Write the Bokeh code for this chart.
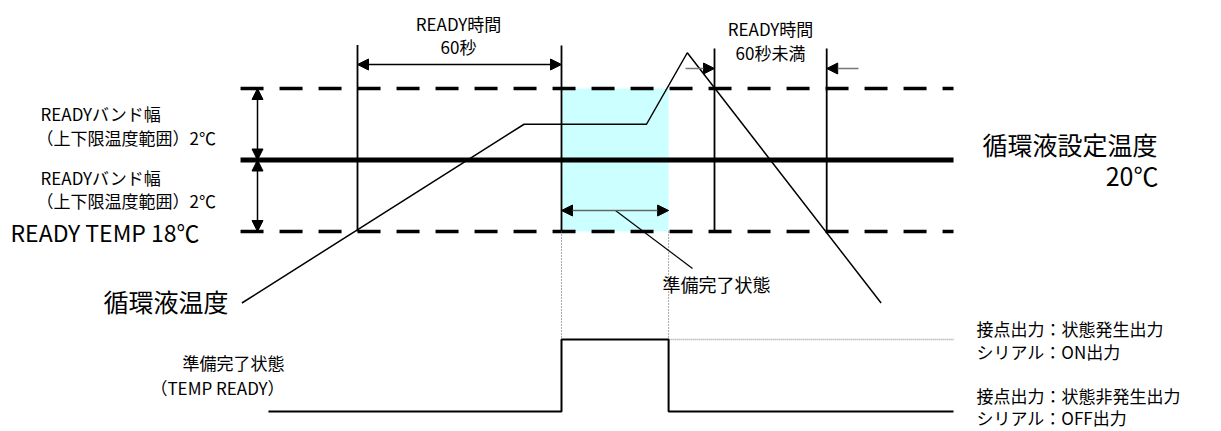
from bokeh.plotting import figure
from bokeh.models import Range1d, Arrow, NormalHead
from bokeh.core.properties import value
from bokeh.embed import file_html
from bokeh.resources import INLINE

# ---- data (time in seconds, temperature in °C, signal 0/1) ----
T_SET = 20.0
BAND = 2.0
upper_limit = T_SET + BAND
lower_limit = T_SET - BAND
line_t = [-34.4, 175.3]              # extent of reference lines (s)

curve_t = [-34, 49, 85, 97, 154]     # circulating fluid temperature
curve_temp = [16, 21, 21, 23, 16]

ready_t = [0, 60, 105, 138]          # READY timer boundaries
ready_top = [23.22, 23.2, 23.12, 23.12]
ready_state = [60, 91.5]             # TEMP READY on / off

sig_t = [-26.2, 60, 60, 91.5, 91.5, 175.3]
sig_v = [0, 0, 1, 1, 0, 0]

FONT = "Noto Sans CJK JP"
W, H = 1221, 431

# pixel <-> data helpers for label placement
PX_PER_S = 3.4
PX_PER_C = 35.75
X0, Y0 = 357, 159.5
def X(px):
    return (px - X0) / PX_PER_S
def Y(py):
    return T_SET + (Y0 - py) / PX_PER_C

p = figure(width=W, height=H,
           x_range=Range1d(X(0), X(W)), y_range=Range1d(Y(H), Y(0)),
           output_backend="svg", toolbar_location=None, min_border=0,
           x_axis_location=None, y_axis_location=None)
p.extra_y_ranges = {"sig": Range1d(-(H - 411) / 72, 411 / 72)}
p.grid.visible = False
p.outline_line_color = None
p.background_fill_color = "white"

# ready band (shaded)
p.quad(left=[ready_state[0]], right=[ready_state[1]], bottom=[lower_limit], top=[upper_limit],
       fill_color="#CCFFFF", line_color=None)

# reference lines
p.line(line_t, [upper_limit] * 2, line_color="black", line_width=3.5, line_dash="23 16")
p.line(line_t, [lower_limit] * 2, line_color="black", line_width=3.5, line_dash="23 16")
p.line(line_t, [T_SET] * 2, line_color="black", line_width=5)

# timer boundaries
p.segment(x0=ready_t, y0=ready_top, x1=ready_t, y1=[lower_limit] * 4, line_color="black", line_width=1.8)

# temperature curve
p.line(curve_t, curve_temp, line_color="black", line_width=1.5)

# dotted guides down to signal
p.segment(x0=ready_state, y0=[2.5, 2.5], x1=ready_state, y1=[1, 1], y_range_name="sig",
          line_color="#555555", line_width=1, line_dash="1 2")
p.line([ready_state[1], sig_t[-1]], [1, 1], y_range_name="sig",
       line_color="#999999", line_width=1.5, line_dash="1 1")

# signal
p.line(sig_t, sig_v, y_range_name="sig", line_color="black", line_width=2)

def head():
    return NormalHead(size=11, fill_color="black", line_color="black", line_width=1)

def arrow(x0, y0, x1, y1, both=False, color="black"):
    p.add_layout(Arrow(x_start=x0, y_start=y0, x_end=x1, y_end=y1,
                       start=head() if both else None, end=head(),
                       line_color=color, line_width=1.5))

# dimension arrows
xb = X(257)
arrow(xb, T_SET, xb, upper_limit, both=True)
arrow(xb, lower_limit, xb, T_SET, both=True)
arrow(ready_t[0], Y(64), ready_t[1], Y(64), both=True)
arrow(X(685), Y(68), ready_t[2], Y(68), color="#777777")
arrow(X(858), Y(68), ready_t[3], Y(68), color="#777777")
arrow(ready_state[0], Y(210), ready_state[1], Y(210), both=True, color="#666666")

# leader line to 準備完了状態
p.line([X(615), X(692)], [Y(210), Y(268)], line_color="black", line_width=1.2)

def txt(px, py, s, size, align="left"):
    p.text(x=[X(px)], y=[Y(py)], text=[s], text_font=value(FONT),
           text_font_size=f"{size}px", text_align=align, text_baseline="middle",
           text_color="black")

txt(40, 113, "READYバンド幅", 17)
txt(36, 137, "（上下限温度範囲）2℃", 17)
txt(40, 177, "READYバンド幅", 17)
txt(36, 200, "（上下限温度範囲）2℃", 17)
txt(10, 231, "READY TEMP 18℃", 23)

txt(458, 23, "READY時間", 17, "center")
txt(458, 46, "60秒", 17, "center")
txt(770, 28, "READY時間", 17, "center")
txt(770, 52, "60秒未満", 17, "center")

txt(982, 143, "循環液設定温度", 25)
txt(1158, 174, "20℃", 25, "right")
txt(228, 300, "循環液温度", 25, "right")

txt(662, 283, "準備完了状態", 18)
txt(284, 362, "準備完了状態", 17, "right")
txt(284, 387, "（TEMP READY）", 17, "right")

txt(976, 328, "接点出力：状態発生出力", 17)
txt(976, 351, "シリアル：ON出力", 17)
txt(976, 395, "接点出力：状態非発生出力", 17)
txt(976, 417, "シリアル：OFF出力", 17)

open("out.html", "w").write(file_html(p, INLINE))
